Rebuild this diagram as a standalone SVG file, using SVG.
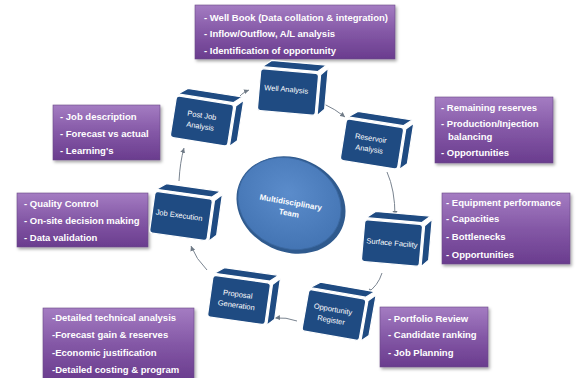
<svg xmlns="http://www.w3.org/2000/svg" width="577" height="378" viewBox="0 0 577 378">
<defs>
<linearGradient id="pg" x1="0" y1="0" x2="0" y2="1">
<stop offset="0" stop-color="#a47cc2"/>
<stop offset="0.5" stop-color="#8458a6"/>
<stop offset="1" stop-color="#6a3c8e"/>
</linearGradient>
<radialGradient id="eg" cx="0.45" cy="0.4" r="0.6">
<stop offset="0" stop-color="#5b8ccb"/>
<stop offset="1" stop-color="#4475b4"/>
</radialGradient>
<filter id="sh" x="-10%" y="-10%" width="125%" height="130%">
<feDropShadow dx="1.5" dy="2" stdDeviation="1.5" flood-color="#000" flood-opacity="0.35"/>
</filter>
<marker id="ah" markerWidth="6" markerHeight="6" refX="5" refY="3" orient="auto" markerUnits="userSpaceOnUse">
<path d="M0,0.5 L5,3 L0,5.5 z" fill="#6f7a86"/>
</marker>
<g id="box">
<polygon points="-28,-23 28,-23 36,-30 -19,-30" class="face"/>
<polygon points="31,-20 38,-27 38,14 31,21" class="face"/>
<rect x="-29" y="-21" width="58" height="42" rx="3" class="face"/>
</g>
</defs>
<style>
.face{fill:#1f4b82;stroke:#ffffff;stroke-width:1.2;stroke-linejoin:round}
.pbox{fill:url(#pg);stroke:#6a4a86;stroke-width:0.6;filter:url(#sh)}
.pt{font-family:"Liberation Sans",Arial,sans-serif;font-size:9.5px;font-weight:bold;fill:#ffffff}
.bt{font-family:"Liberation Sans",Arial,sans-serif;font-size:7.5px;fill:#ffffff;text-anchor:middle}
.conn{fill:none;stroke:#7a8490;stroke-width:1;marker-end:url(#ah)}
</style>
<rect width="577" height="378" fill="#ffffff"/>

<g id="connectors">
<path class="conn" d="M236,101 Q241,93 249,90"/>
<path class="conn" d="M324,104 Q335,109 345,117"/>
<path class="conn" d="M387,172 Q395,190 395,216"/>
<path class="conn" d="M382,273 Q378,286 367,293"/>
<path class="conn" d="M297,321 Q286,317 275,318"/>
<path class="conn" d="M207,270 Q196,259 191,246"/>
<path class="conn" d="M179,181 Q180,162 184,148"/>
</g>

<g id="info-well">
<rect class="pbox" x="195" y="5" width="200" height="54"/>
<text class="pt" x="204" y="20.5">- Well Book (Data collation &amp; integration)</text>
<text class="pt" x="204" y="37">- Inflow/Outflow, A/L analysis</text>
<text class="pt" x="204" y="54">- Identification of opportunity</text>
</g>

<g id="info-postjob">
<rect class="pbox" x="53" y="105" width="107" height="55"/>
<text class="pt" x="60" y="119.5">- Job description</text>
<text class="pt" x="60" y="136.5">- Forecast vs actual</text>
<text class="pt" x="60" y="154">- Learning's</text>
</g>

<g id="info-reservoir">
<rect class="pbox" x="435" y="97" width="118" height="66"/>
<text class="pt" x="441" y="110.5">- Remaining reserves</text>
<text class="pt" x="441" y="126.5">- Production/Injection</text>
<text class="pt" x="448" y="139.5">balancing</text>
<text class="pt" x="441" y="155.5">- Opportunities</text>
</g>

<g id="info-jobexec">
<rect class="pbox" x="17" y="193" width="131" height="54"/>
<text class="pt" x="24" y="206.5">- Quality Control</text>
<text class="pt" x="24" y="223.5">- On-site decision making</text>
<text class="pt" x="24" y="240.5">- Data validation</text>
</g>

<g id="info-surface">
<rect class="pbox" x="442" y="193" width="128" height="71"/>
<text class="pt" x="446" y="205.5">- Equipment  performance</text>
<text class="pt" x="446" y="222">- Capacities</text>
<text class="pt" x="446" y="240">- Bottlenecks</text>
<text class="pt" x="446" y="258">- Opportunities</text>
</g>

<g id="info-proposal">
<rect class="pbox" x="43" y="308" width="151" height="72"/>
<text class="pt" x="52" y="320.5">-Detailed technical analysis</text>
<text class="pt" x="52" y="337.5">-Forecast gain &amp; reserves</text>
<text class="pt" x="52" y="355.5">-Economic justification</text>
<text class="pt" x="52" y="372.5">-Detailed costing &amp; program</text>
</g>

<g id="info-opportunity">
<rect class="pbox" x="380" y="307" width="108" height="60"/>
<text class="pt" x="388" y="321.5">- Portfolio Review</text>
<text class="pt" x="388" y="337.5">- Candidate ranking</text>
<text class="pt" x="388" y="355.5">- Job Planning</text>
</g>

<g id="team">
<ellipse cx="291" cy="205" rx="56" ry="47" transform="rotate(25 291 205)" fill="#2f5a8e"/>
<ellipse cx="289.5" cy="203.5" rx="53" ry="44.5" transform="rotate(25 289.5 203.5)" fill="url(#eg)" stroke="#3a67a0" stroke-width="0.8"/>
<g transform="rotate(10 290 207)" font-family="'Liberation Sans',Arial,sans-serif" font-size="8" font-weight="bold" fill="#ffffff" text-anchor="middle">
<text x="290" y="205">Multidisciplinary</text>
<text x="290" y="216">Team</text>
</g>
</g>

<g id="well-analysis" transform="translate(288 92) rotate(5)">
<use href="#box"/>
<text class="bt" x="-2" y="0">Well Analysis</text>
</g>

<g id="post-job-analysis" transform="translate(202 121) rotate(9)">
<use href="#box"/>
<text class="bt" x="-1" y="-3">Post Job</text>
<text class="bt" x="-1" y="8">Analysis</text>
</g>

<g id="reservoir-analysis" transform="translate(372 144) rotate(9)">
<use href="#box"/>
<text class="bt" x="-2" y="-3">Reservoir</text>
<text class="bt" x="-2" y="8">Analysis</text>
</g>

<g id="job-execution" transform="translate(181 216) rotate(8)">
<use href="#box"/>
<text class="bt" x="-2" y="2">Job Execution</text>
</g>

<g id="surface-facility" transform="translate(392 243) rotate(5)">
<use href="#box"/>
<text class="bt" x="0" y="2.5">Surface Facility</text>
</g>

<g id="proposal-generation" transform="translate(239 300) rotate(8)">
<use href="#box"/>
<text class="bt" x="-2" y="-3">Proposal</text>
<text class="bt" x="-2" y="8">Generation</text>
</g>

<g id="opportunity-register" transform="translate(334 315) rotate(10)">
<use href="#box"/>
<text class="bt" x="-2" y="-3">Opportunity</text>
<text class="bt" x="-2" y="8">Register</text>
</g>
</svg>
